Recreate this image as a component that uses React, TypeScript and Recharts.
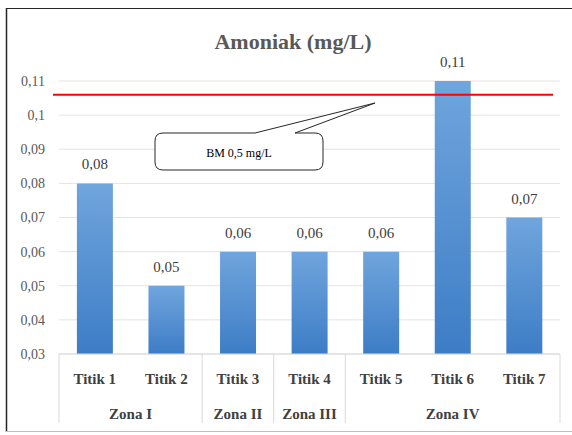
import React from 'react';
import { BarChart, Bar, XAxis, YAxis, CartesianGrid, ReferenceLine, LabelList, Customized } from 'recharts';

const titik = ['Titik 1', 'Titik 2', 'Titik 3', 'Titik 4', 'Titik 5', 'Titik 6', 'Titik 7'];
const amoniak = [0.08, 0.05, 0.06, 0.06, 0.06, 0.11, 0.07];
const zona = ['Zona I', 'Zona II', 'Zona III', 'Zona IV'];
const zonaSize = [2, 1, 1, 3];
const yTicks = [0.03, 0.04, 0.05, 0.06, 0.07, 0.08, 0.09, 0.1, 0.11];
const bakuMutu = 0.106;
const bakuLabel = 'BM 0,5 mg/L';

// pos = centre of each bar in "bar index" units, used by the zone axis
const data = titik.map((t, i) => ({ titik: t, amoniak: amoniak[i], pos: i + 0.5 }));

// zone boundaries and centers in "bar index" units
const zonaEdges: number[] = [0];
zonaSize.forEach(s => zonaEdges.push(zonaEdges[zonaEdges.length - 1] + s));
const zonaCenters = zona.map((_, i) => (zonaEdges[i] + zonaEdges[i + 1]) / 2);
const zonaTicks = [...zonaEdges, ...zonaCenters].sort((a, b) => a - b);

const FONT = '"Liberation Serif", "DejaVu Serif", "Times New Roman", Times, serif';
const comma = (v: number) => String(v).replace('.', ',');

const TitikTick = (props: any) => {
  const { x, y, payload } = props;
  return (
    <text x={x} y={y + 30} textAnchor="middle" fontFamily={FONT} fontSize={15} fontWeight="bold" fill="#404040">
      {payload.value}
    </text>
  );
};

const ZonaTick = (props: any) => {
  const { x, y, payload } = props;
  const edge = zonaEdges.indexOf(payload.value);
  if (edge >= 0) {
    return <line x1={x} y1={y - 40} x2={x} y2={y + 29} stroke="#d9d9d9" strokeWidth={1} />;
  }
  const idx = zonaCenters.indexOf(payload.value);
  return (
    <text x={x} y={y + 25} textAnchor="middle" fontFamily={FONT} fontSize={15} fontWeight="bold" fill="#404040">
      {zona[idx]}
    </text>
  );
};

const Decorations = () => (
  <g>
    {/* frame */}
    <line x1={6.5} y1={8.5} x2={572} y2={8.5} stroke="#262626" strokeWidth={1} />
    <line x1={6.5} y1={8} x2={6.5} y2={432} stroke="#262626" strokeWidth={1.5} />
    <line x1={6} y1={431.5} x2={572} y2={431.5} stroke="#bfbfbf" strokeWidth={1} />
    {/* title */}
    <text x={293} y={49} textAnchor="middle" fontFamily={FONT} fontSize={22} fontWeight="bold" fill="#595959">
      Amoniak (mg/L)
    </text>
    {/* callout */}
    <path
      d="M163 133 L255 133 L375 103 L295 133 L315 133 Q323 133 323 141 L323 162 Q323 170 315 170 L163 170 Q155 170 155 162 L155 141 Q155 133 163 133 Z"
      fill="#ffffff"
      stroke="#262626"
      strokeWidth={1}
    />
    <text x={239} y={157} textAnchor="middle" fontFamily={FONT} fontSize={12} fill="#000000">
      {bakuLabel}
    </text>
  </g>
);

const App: React.FC = () => {
  return (
    <div style={{ position: 'absolute', left: 0, top: 0, width: 572, height: 435, background: '#ffffff', fontFamily: FONT }}>
      <BarChart
        width={572}
        height={435}
        data={data}
        margin={{ top: 81, right: 12, left: 0, bottom: 12 }}
        barCategoryGap="25%"
      >
        <defs>
          <linearGradient id="barFill" x1="0" y1="0" x2="0" y2="1">
            <stop offset="0%" stopColor="#70a5dd" />
            <stop offset="100%" stopColor="#3d7dc6" />
          </linearGradient>
        </defs>
        <CartesianGrid vertical={false} stroke="#e3e3e3" xAxisId="titik" />
        <YAxis
          width={59}
          domain={[0.03, 0.11]}
          ticks={yTicks}
          allowDataOverflow
          axisLine={false}
          tickLine={false}
          tickSize={0}
          tickMargin={14}
          tickFormatter={comma}
          tick={{ fontFamily: FONT, fontSize: 14, fill: '#595959' }}
        />
        <XAxis
          xAxisId="titik"
          dataKey="titik"
          height={40}
          axisLine={{ stroke: '#d9d9d9' }}
          tickLine={false}
          tickSize={0}
          tickMargin={0}
          interval={0}
          tick={<TitikTick />}
        />
        <XAxis
          xAxisId="zona"
          type="number"
          dataKey="pos"
          domain={[0, zonaEdges[zonaEdges.length - 1]]}
          allowDataOverflow
          ticks={zonaTicks}
          interval={0}
          height={29}
          axisLine={false}
          tickLine={false}
          tickSize={0}
          tickMargin={0}
          tick={<ZonaTick />}
        />
        <Bar dataKey="amoniak" xAxisId="titik" fill="url(#barFill)" isAnimationActive={false}>
          <LabelList
            dataKey="amoniak"
            position="top"
            offset={14}
            formatter={(v: any) => comma(Number(v))}
            style={{ fontFamily: FONT, fontSize: 15, fill: '#404040' }}
          />
        </Bar>
        <ReferenceLine
          y={bakuMutu}
          xAxisId="titik"
          ifOverflow="extendDomain"
          shape={(p: any) => (
            <line x1={p.x1 - 6} y1={p.y1} x2={p.x2 - 7} y2={p.y2} stroke="#ff0000" strokeWidth={2} />
          )}
        />
        <Customized component={<Decorations />} />
      </BarChart>
    </div>
  );
};

export default App;
